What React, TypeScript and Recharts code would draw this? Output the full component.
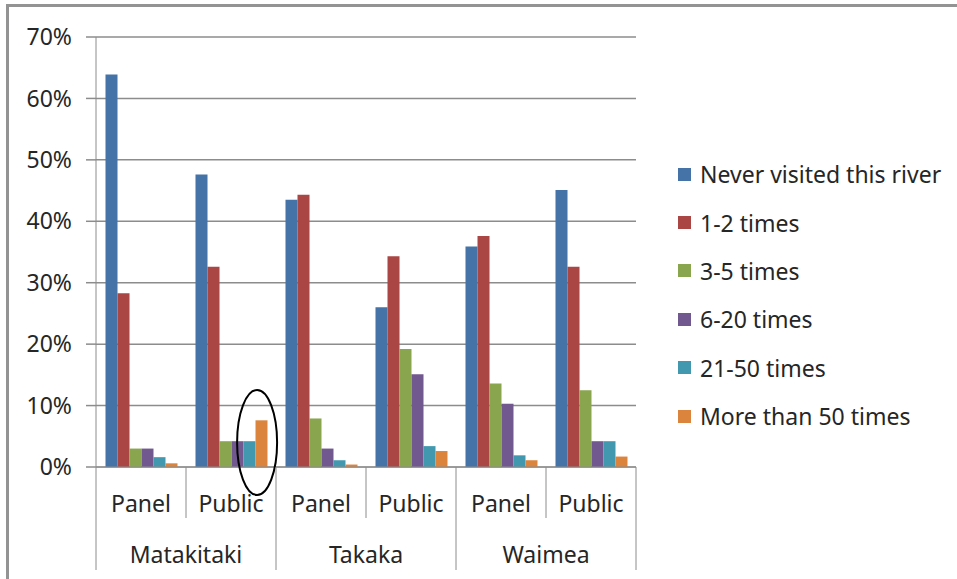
import React from "react";
import {
  BarChart,
  Bar,
  XAxis,
  YAxis,
  CartesianGrid,
  Legend,
  ReferenceDot,
} from "recharts";

// categories: respondent group within each river
const groups = ["Panel", "Public", "Panel", "Public", "Panel", "Public"];
const rivers = ["Matakitaki", "Matakitaki", "Takaka", "Takaka", "Waimea", "Waimea"];

// share of respondents by number of visits
const neverVisited = [0.639, 0.476, 0.435, 0.26, 0.359, 0.451];
const times1to2 = [0.283, 0.326, 0.443, 0.343, 0.376, 0.326];
const times3to5 = [0.03, 0.042, 0.079, 0.192, 0.136, 0.125];
const times6to20 = [0.03, 0.042, 0.03, 0.151, 0.103, 0.042];
const times21to50 = [0.016, 0.042, 0.011, 0.034, 0.019, 0.042];
const over50 = [0.006, 0.076, 0.004, 0.026, 0.011, 0.017];

const yTicks = [0, 0.1, 0.2, 0.3, 0.4, 0.5, 0.6, 0.7];

const series = [
  { key: "never", name: "Never visited this river", values: neverVisited, color: "#4572A7" },
  { key: "t1", name: "1-2 times", values: times1to2, color: "#AA4643" },
  { key: "t3", name: "3-5 times", values: times3to5, color: "#89A54E" },
  { key: "t6", name: "6-20 times", values: times6to20, color: "#71588F" },
  { key: "t21", name: "21-50 times", values: times21to50, color: "#4198AF" },
  { key: "t50", name: "More than 50 times", values: over50, color: "#DB843D" },
];

const data = groups.map((g, i) => {
  const row: Record<string, string | number> = { key: `${rivers[i]} ${g}`, group: g, river: rivers[i] };
  series.forEach((s) => (row[s.key] = s.values[i]));
  return row;
});

const W = 957;
const H = 579;
const X_AXIS_H = 30;
const margin = { top: 37, right: 321, bottom: 112 - X_AXIS_H, left: 0 };
const AXIS_W = 96;
const BAND = (W - margin.left - margin.right - AXIS_W) / data.length;

const FONT = "'Noto Sans', sans-serif";
const TEXT = "#262626";
const LINE = "#8c8c8c";

function CategoryTick(props: any) {
  const { x, y, payload } = props;
  const i = payload.index;
  const half = BAND / 2;
  const isPanel = groups[i] === "Panel";
  return (
    <g>
      <text x={x} y={y + 45} textAnchor="middle" fontSize={23} fill={TEXT} fontFamily={FONT}>
        {groups[i]}
      </text>
      <line x1={x + half} y1={y} x2={x + half} y2={y + (isPanel ? 51 : 103)} stroke={LINE} />
      {i === 0 && <line x1={x - half} y1={y} x2={x - half} y2={y + 103} stroke={LINE} />}
      {isPanel && (
        <text x={x + half} y={y + 96} textAnchor="middle" fontSize={23} fill={TEXT} fontFamily={FONT}>
          {rivers[i]}
        </text>
      )}
    </g>
  );
}

function LegendBox() {
  return (
    <div style={{ fontFamily: FONT, fontSize: 23, color: TEXT }}>
      {series.map((s) => (
        <div key={s.key} style={{ height: 48.4, display: "flex", alignItems: "center", whiteSpace: "nowrap" }}>
          <span style={{ width: 13, height: 13, background: s.color, marginRight: 9, display: "inline-block" }} />
          {s.name}
        </div>
      ))}
    </div>
  );
}

export default function App() {
  return (
    <div style={{ position: "absolute", left: 0, top: 0, width: W, height: H, overflow: "hidden", background: "#fff" }}>
      <div
        style={{
          position: "absolute",
          left: 6,
          top: 4,
          width: W + 20,
          height: H + 20,
          borderTop: "3px solid #939393",
          borderLeft: "3px solid #939393",
        }}
      />
      <div style={{ position: "absolute", left: 0, top: 0 }}>
        <BarChart width={W} height={H} data={data} margin={margin} barCategoryGap={9.5} barGap={0}>
          <CartesianGrid horizontal vertical={false} stroke={LINE} strokeWidth={1.5} />
          <XAxis
            dataKey="key"
            height={X_AXIS_H}
            interval={0}
            tickSize={0}
            tickMargin={0}
            tickLine={false}
            axisLine={{ stroke: LINE }}
            tick={<CategoryTick />}
          />
          <YAxis
            width={AXIS_W}
            domain={[0, 0.7]}
            ticks={yTicks}
            tickSize={10}
            tickMargin={14}
            axisLine={{ stroke: LINE }}
            tickLine={{ stroke: LINE, strokeWidth: 1.5 }}
            tick={{ fontSize: 23, fill: TEXT, fontFamily: FONT }}
            tickFormatter={(v: number) => `${Math.round(v * 100)}%`}
          />
          {series.map((s) => (
            <Bar key={s.key} dataKey={s.key} name={s.name} fill={s.color} isAnimationActive={false} />
          ))}
          {/* highlight around the frequent-visitor bars of the Matakitaki public sample */}
          <ReferenceDot
            x="Matakitaki Public"
            y={0.04}
            ifOverflow="visible"
            shape={(p: any) => (
              <ellipse cx={p.cx + BAND * 0.29} cy={p.cy} rx={20} ry={52.5} fill="none" stroke="#000" strokeWidth={2} />
            )}
          />
          <Legend
            layout="vertical"
            align="center"
            verticalAlign="middle"
            wrapperStyle={{ left: 678, top: 150, width: 279 }}
            content={<LegendBox />}
          />
        </BarChart>
      </div>
    </div>
  );
}
